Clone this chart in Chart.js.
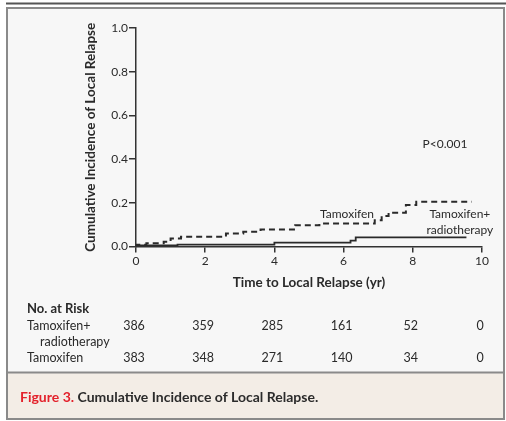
<!DOCTYPE html>
<html>
<head>
<meta charset="utf-8">
<script src="https://cdn.jsdelivr.net/npm/chart.js@4"></script>
<style>
  html, body { margin: 0; padding: 0; background: #ffffff; }
  #wrap { position: relative; width: 506px; height: 421px; }
</style>
</head>
<body>
<div id="wrap"><canvas id="relapseChart" width="506" height="421"></canvas></div>
<script>
// step points (years, cumulative incidence)
const tamTimes = [0, 0.3, 0.8, 1.0, 1.3, 2.6, 3.1, 3.6, 4.6, 5.3, 6.9, 7.1, 7.3, 7.8, 8.1, 8.3, 9.7];
const tamValues = [0, 0.008, 0.015, 0.022, 0.037, 0.045, 0.06, 0.068, 0.078, 0.097, 0.105, 0.12, 0.14, 0.155, 0.19, 0.205, 0.205];
const tamRtTimes = [0, 1.2, 4.0, 6.2, 6.35, 8.0, 9.55];
const tamRtValues = [0, 0.005, 0.009, 0.018, 0.027, 0.042, 0.042];

const riskTimes = [0, 2, 4, 6, 8, 10];
const riskTamRt = [386, 359, 285, 161, 52, 0];
const riskTam = [383, 348, 271, 140, 34, 0];

const FONT = "Lato, 'Open Sans', sans-serif";
const INK = "#2a2a2a";

function toPoints(xs, ys) {
  return xs.map((x, i) => ({ x: x, y: ys[i] }));
}

// frame, panel background and caption
const framePlugin = {
  id: "frame",
  beforeDraw(chart) {
    const ctx = chart.ctx;
    ctx.save();
    ctx.fillStyle = "#ffffff";
    ctx.fillRect(0, 0, 506, 421);
    ctx.fillStyle = "#555555";
    ctx.fillRect(6, 2.5, 500, 2);
    ctx.fillStyle = "#f7f7f7";
    ctx.fillRect(7, 8, 498, 364);
    ctx.fillStyle = "#f3ede6";
    ctx.fillRect(7, 373, 498, 46);
    ctx.strokeStyle = "#8a8a8a";
    ctx.lineWidth = 2;
    ctx.strokeRect(7, 8, 497, 411);
    ctx.beginPath();
    ctx.moveTo(7, 372.5);
    ctx.lineTo(505, 372.5);
    ctx.stroke();

    ctx.font = "bold 14px " + FONT;
    ctx.textBaseline = "middle";
    ctx.textAlign = "left";
    ctx.fillStyle = "#e3222c";
    ctx.fillText("Figure 3.", 20, 397);
    const w = ctx.measureText("Figure 3. ").width;
    ctx.fillStyle = "#2b2b2b";
    ctx.fillText("Cumulative Incidence of Local Relapse.", 20 + w, 397);
    ctx.restore();
  },
  afterDraw(chart) {
    const ctx = chart.ctx;
    const xs = chart.scales.x;
    const ys = chart.scales.y;
    ctx.save();
    ctx.fillStyle = INK;
    ctx.textBaseline = "middle";

    // curve labels
    ctx.font = "12px " + FONT;
    ctx.textAlign = "center";
    ctx.fillText("Tamoxifen", xs.getPixelForValue(6.1), ys.getPixelForValue(0.149));
    ctx.fillText("Tamoxifen+", xs.getPixelForValue(9.36), ys.getPixelForValue(0.149));
    ctx.fillText("radiotherapy", xs.getPixelForValue(9.36), ys.getPixelForValue(0.075));
    ctx.fillText("P<0.001", xs.getPixelForValue(8.93), ys.getPixelForValue(0.469));

    // number at risk table
    ctx.font = "bold 13px " + FONT;
    ctx.textAlign = "left";
    ctx.fillText("No. at Risk", 27, 309);
    ctx.font = "12.5px " + FONT;
    ctx.fillText("Tamoxifen+", 27, 326);
    ctx.fillText("radiotherapy", 40, 342);
    ctx.fillText("Tamoxifen", 27, 358);
    ctx.textAlign = "center";
    riskTimes.forEach((t, i) => {
      const px = xs.getPixelForValue(t);
      ctx.fillText(String(riskTamRt[i]), px - 2, 326);
      ctx.fillText(String(riskTam[i]), px - 2, 358);
    });
    ctx.restore();
  }
};

const ctx = document.getElementById("relapseChart").getContext("2d");
new Chart(ctx, {
  type: "line",
  data: {
    datasets: [
      {
        label: "Tamoxifen",
        data: toPoints(tamTimes, tamValues),
        borderColor: INK,
        borderWidth: 2,
        borderDash: [6, 4],
        stepped: "after",
        pointRadius: 0,
        fill: false
      },
      {
        label: "Tamoxifen+radiotherapy",
        data: toPoints(tamRtTimes, tamRtValues),
        borderColor: INK,
        borderWidth: 1.8,
        stepped: "after",
        pointRadius: 0,
        fill: false
      }
    ]
  },
  options: {
    responsive: false,
    animation: false,
    layout: { padding: { left: 77, top: 28, right: 24, bottom: 130 } },
    plugins: {
      legend: { display: false },
      tooltip: { enabled: false }
    },
    scales: {
      x: {
        type: "linear",
        min: 0,
        max: 10,
        afterFit(scale) {
          scale.height = 44.5;
          scale.paddingLeft = 0;
          scale.paddingRight = 0;
        },
        border: { color: "#333", width: 1.5 },
        grid: { drawOnChartArea: false, color: "#333", tickLength: 6, lineWidth: 1.5 },
        ticks: { stepSize: 2, color: INK, font: { family: FONT, size: 12 }, padding: 1 },
        title: {
          display: true,
          text: "Time to Local Relapse (yr)",
          color: INK,
          font: { family: FONT, size: 13.5, weight: "bold" },
          padding: { top: 0, bottom: 0.5 }
        }
      },
      y: {
        min: 0,
        max: 1,
        afterFit(scale) {
          scale.width = 59;
          scale.paddingTop = 0;
          scale.paddingBottom = 0;
        },
        border: { color: "#333", width: 1.5 },
        grid: { drawOnChartArea: false, color: "#333", tickLength: 7, lineWidth: 1.5 },
        ticks: {
          stepSize: 0.2,
          color: INK,
          font: { family: FONT, size: 12 },
          padding: 1,
          callback: (v) => v.toFixed(1)
        },
        title: {
          display: true,
          text: "Cumulative Incidence of Local Relapse",
          color: INK,
          font: { family: FONT, size: 13.5, weight: "bold" },
          padding: { top: 6, bottom: 0 }
        }
      }
    }
  },
  plugins: [framePlugin]
});
</script>
</body>
</html>
